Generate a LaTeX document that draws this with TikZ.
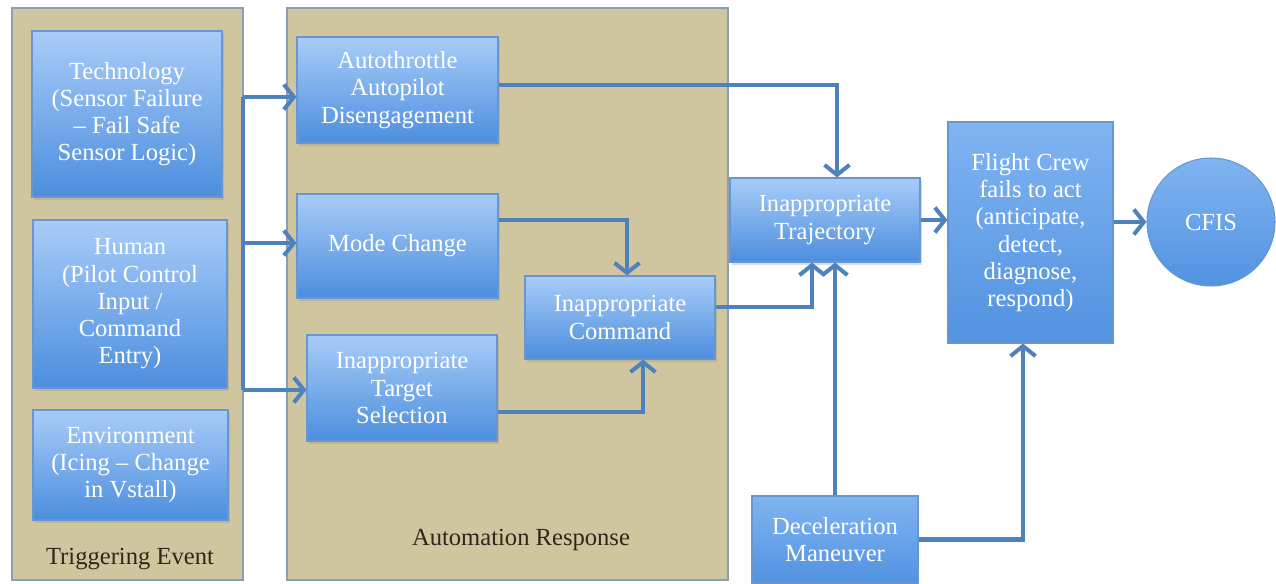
\documentclass[tikz,border=0pt]{standalone}
\usepackage{fontspec}
\setmainfont{Liberation Serif}
\usepackage{tikz}
\usetikzlibrary{arrows.meta,shadows}
\definecolor{pantan}{RGB}{207,198,160}
\definecolor{panedge}{RGB}{140,158,182}
\definecolor{boxtop}{RGB}{168,204,248}
\definecolor{boxbot}{RGB}{76,142,222}
\definecolor{boxedge}{RGB}{104,150,210}
\definecolor{flattop}{RGB}{128,180,242}
\definecolor{flatbot}{RGB}{82,146,224}
\definecolor{flowblue}{RGB}{79,129,189}
\definecolor{captext}{RGB}{45,40,25}
\tikzstyle{panel}=[rectangle, draw=panedge, fill=pantan, line width=1.1pt, inner sep=0pt]
\tikzstyle{caption}=[text=captext, font=\fontsize{14}{16}\selectfont]
\tikzstyle{cause}=[rectangle, draw=boxedge, top color=boxtop, bottom color=boxbot, text=white, align=center, inner sep=2pt, line width=0.6pt, font=\fontsize{14}{15.5}\selectfont, drop shadow={shadow xshift=1pt, shadow yshift=-1.5pt, opacity=0.25}]
\tikzstyle{flat}=[rectangle, draw=boxedge, top color=flattop, bottom color=flatbot, text=white, align=center, inner sep=2pt, line width=0.6pt, font=\fontsize{14}{15.5}\selectfont]
\tikzstyle{flow}=[draw=flowblue, line width=2.3pt, -{Straight Barb[length=2mm, width=5mm]}]
\tikzstyle{trunk}=[draw=flowblue, line width=2.3pt]

\begin{document}
\begin{tikzpicture}[x=0.02cm, y=-0.02cm]
	\useasboundingbox [fill=white] (0, 0) rectangle (1276, 584);
	\begin{scope}
		\node (trig) at (127.5, 294)[panel, minimum width=4.62cm, minimum height=11.44cm] {};
		\node (autoresp) at (507.5, 294)[panel, minimum width=8.82cm, minimum height=11.44cm] {};
		\node (trigcap) at (130, 559)[caption] {Triggering Event};
		\node (autocap) at (521, 540)[caption] {Automation Response};
		\node (tech) at (127, 114)[cause, minimum width=3.8cm, minimum height=3.32cm] {Technology\\(Sensor Failure\\-- Fail Safe\\Sensor Logic)};
		\node (human) at (130, 304)[cause, minimum width=3.88cm, minimum height=3.36cm] {Human\\(Pilot Control\\Input /\\Command\\Entry)};
		\node (env) at (130.5, 465)[cause, minimum width=3.9cm, minimum height=2.2cm] {Environment\\(Icing -- Change\\in Vstall)};
		\node (autoth) at (397.5, 90)[cause, minimum width=4.02cm, minimum height=2.12cm] {Autothrottle\\Autopilot\\Disengagement};
		\node (mode) at (397.5, 246)[cause, minimum width=4.02cm, minimum height=2.08cm] {Mode Change};
		\node (target) at (402, 388)[cause, minimum width=3.8cm, minimum height=2.12cm] {Inappropriate\\Target\\Selection};
		\node (command) at (620, 317.5)[cause, minimum width=3.8cm, minimum height=1.66cm] {Inappropriate\\Command};
		\node (traj) at (825, 220)[cause, minimum width=3.8cm, minimum height=1.68cm] {Inappropriate\\Trajectory};
		\node (crew) at (1030.5, 232.5)[flat, minimum width=3.3cm, minimum height=4.42cm] {Flight Crew\\fails to act\\(anticipate,\\detect,\\diagnose,\\respond)};
		\node (cfis) at (1211, 222)[flat, circle, minimum size=2.56cm] {CFIS};
		\node (decel) at (835, 539.5)[flat, minimum width=3.32cm, minimum height=1.74cm] {Deceleration\\Maneuver};
		\coordinate (tk1) at (243, 97);
		\coordinate (tk2) at (243, 243);
		\coordinate (tk3) at (243, 390);
	\end{scope}
	\begin{scope}
		\path [trunk] (tk1) -- (tk3);
		\path [flow] (tk1) -- (tk1 -| autoth.west);
		\path [flow] (tk2) -- (tk2 -| mode.west);
		\path [flow] (tk3) -- (tk3 -| target.west);
		\path [flow] ([yshift=0.1cm]autoth.east) -| ([xshift=0.24cm]traj.north);
		\path [flow] ([yshift=0.52cm]mode.east) -| ([xshift=0.14cm]command.north);
		\path [flow] ([yshift=-0.48cm]target.east) -| ([xshift=0.46cm]command.south);
		\path [flow] ([yshift=0.21cm]command.east) -| ([xshift=-0.26cm]traj.south);
		\path [flow] (decel.north) -- (decel.north |- traj.south);
		\path [flow] (decel.east) -| ([xshift=-0.15cm]crew.south);
		\path [flow] (traj.east) -- (traj.east -| crew.west);
		\path [flow] (crew.east |- cfis) -- (cfis.west);
	\end{scope}
\end{tikzpicture}
\end{document}
